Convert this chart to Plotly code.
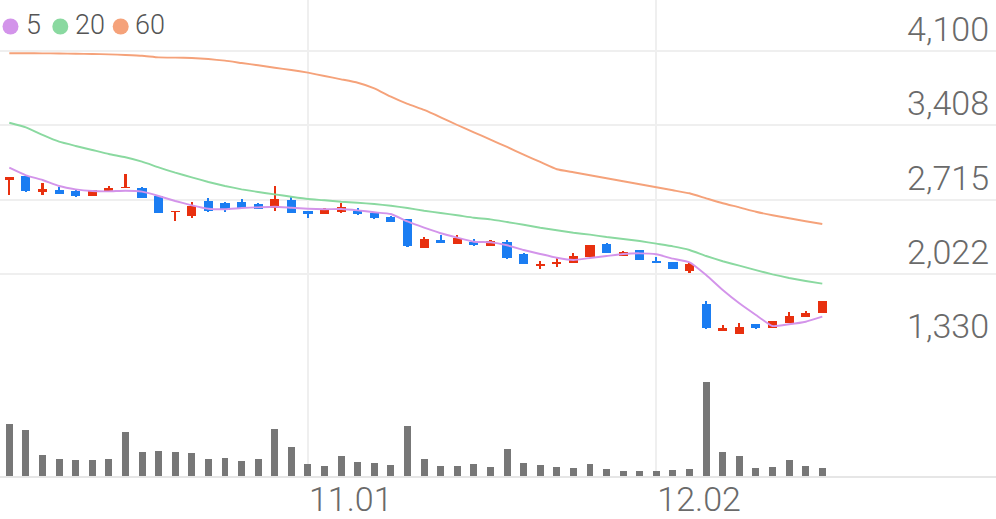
import plotly.graph_objects as go

# ---- data ----
opens = [2897, 2934, 2785, 2804, 2791, 2750, 2794, 2819, 2825, 2750,
         2598, 2561, 2704, 2680, 2689, 2673, 2638, 2710, 2610, 2582,
         2596, 2610, 2592, 2549, 2530, 2260, 2337, 2300, 2319, 2284,
         2316, 2204, 2095, 2111, 2120, 2176, 2297, 2191, 2241, 2141,
         2129, 2051, 1740, 1488, 1463, 1554, 1517, 1563, 1616, 1659]
closes = [2925, 2794, 2810, 2766, 2750, 2806, 2819, 2834, 2732, 2592,
          2610, 2654, 2610, 2617, 2638, 2624, 2722, 2592, 2582, 2617,
          2648, 2580, 2542, 2505, 2281, 2344, 2306, 2359, 2291, 2325,
          2172, 2113, 2116, 2135, 2191, 2288, 2216, 2222, 2151, 2123,
          2067, 2111, 1519, 1519, 1529, 1519, 1579, 1631, 1654, 1765]
highs = [2925, 2946, 2866, 2829, 2810, 2806, 2838, 2950, 2832, 2750,
         2610, 2694, 2726, 2694, 2717, 2682, 2841, 2735, 2610, 2633,
         2685, 2638, 2592, 2564, 2530, 2365, 2381, 2381, 2349, 2334,
         2334, 2219, 2144, 2172, 2219, 2288, 2309, 2237, 2241, 2181,
         2129, 2129, 1765, 1547, 1566, 1554, 1579, 1663, 1675, 1765]
lows = [2757, 2785, 2757, 2766, 2738, 2750, 2782, 2819, 2732, 2592,
        2514, 2545, 2598, 2598, 2638, 2624, 2608, 2592, 2542, 2582,
        2586, 2568, 2530, 2505, 2269, 2260, 2306, 2297, 2281, 2284,
        2163, 2113, 2064, 2088, 2120, 2176, 2216, 2188, 2151, 2123,
        2067, 2032, 1510, 1488, 1463, 1504, 1517, 1563, 1616, 1654]
ma5 = [3012, 2941, 2897, 2841, 2810, 2794, 2791, 2797, 2788, 2748,
       2701, 2661, 2629, 2624, 2636, 2642, 2648, 2638, 2629, 2624,
       2626, 2614, 2596, 2580, 2510, 2452, 2400, 2359, 2321, 2316,
       2288, 2244, 2207, 2172, 2151, 2169, 2188, 2207, 2213, 2204,
       2163, 2129, 2011, 1871, 1747, 1638, 1535, 1551, 1575, 1622]
ma20 = [3431, 3388, 3317, 3254, 3214, 3177, 3139, 3109, 3068, 3015,
        2965, 2922, 2878, 2841, 2810, 2785, 2763, 2741, 2720, 2708,
        2694, 2685, 2673, 2657, 2636, 2610, 2589, 2568, 2545, 2530,
        2505, 2480, 2452, 2428, 2405, 2387, 2365, 2347, 2328, 2303,
        2278, 2244, 2188, 2139, 2098, 2057, 2017, 1983, 1955, 1930]
ma60 = [4079, 4079, 4078, 4077, 4075, 4072, 4069, 4063, 4056, 4041,
        4038, 4035, 4025, 4010, 3988, 3967, 3944, 3923, 3898, 3867,
        3836, 3804, 3752, 3674, 3606, 3550, 3482, 3410, 3342, 3273,
        3205, 3133, 3065, 2997, 2969, 2941, 2913, 2885, 2857, 2829,
        2801, 2773, 2726, 2680, 2642, 2601, 2568, 2540, 2512, 2486]
volumes = [520, 463, 213, 170, 157, 160, 167, 440, 243, 250,
           237, 233, 173, 177, 150, 167, 470, 287, 123, 103,
           200, 140, 127, 113, 497, 173, 100, 100, 120, 93,
           267, 127, 113, 87, 83, 123, 70, 47, 50, 47,
           60, 70, 943, 243, 200, 83, 90, 160, 100, 77]
price_ticks = [1330, 2022, 2715, 3408, 4100]
date_tick_index = [18, 39]
date_tick_labels = ["11.01", "12.02"]
ma_names = ["5", "20", "60"]

# ---- styles ----
RED = "#e8300f"
BLUE = "#1b7df2"
MA_COLORS = ["#d394ea", "#8ad9a0", "#f5a27a"]
GRID = "#efefef"
FONT = "Roboto"

x = list(range(len(opens)))
up = [i for i in x if closes[i] >= opens[i]]
dn = [i for i in x if closes[i] < opens[i]]

fig = go.Figure()

# volume
fig.add_trace(go.Bar(x=x, y=volumes, width=0.42, marker=dict(color="#777777", line_width=0),
                     xaxis="x", yaxis="y2", hoverinfo="skip"))

# wicks
for idx, col in ((up, RED), (dn, BLUE)):
    fig.add_trace(go.Bar(x=idx, base=[lows[i] for i in idx],
                         y=[highs[i] - lows[i] for i in idx], width=0.13,
                         marker=dict(color=col, line_width=0), xaxis="x", yaxis="y",
                         hoverinfo="skip"))
# bodies
fig.add_trace(go.Bar(x=up, base=[opens[i] for i in up],
                     y=[closes[i] - opens[i] for i in up], width=0.55,
                     marker=dict(color=RED, line_width=0), xaxis="x", yaxis="y", hoverinfo="skip"))
fig.add_trace(go.Bar(x=dn, base=[closes[i] for i in dn],
                     y=[opens[i] - closes[i] for i in dn], width=0.55,
                     marker=dict(color=BLUE, line_width=0), xaxis="x", yaxis="y", hoverinfo="skip"))

# moving averages
for vals, col in ((ma60, MA_COLORS[2]), (ma20, MA_COLORS[1]), (ma5, MA_COLORS[0])):
    fig.add_trace(go.Scatter(x=x, y=vals, mode="lines",
                             line=dict(color=col, width=1.9, shape="spline", smoothing=0.4),
                             xaxis="x", yaxis="y", hoverinfo="skip"))

W, H = 996, 519
BOTTOM = 43
plot_h = H - BOTTOM
split = (476 - 348) / plot_h

fig.update_layout(
    width=W, height=H,
    margin=dict(l=0, r=0, t=0, b=BOTTOM, pad=0, autoexpand=False),
    paper_bgcolor="white", plot_bgcolor="white",
    showlegend=False, barmode="overlay", bargap=0, hovermode=False,
    font=dict(family=FONT, color="#666666"),
    xaxis=dict(range=[-0.56, 59.47], anchor="y2", tickmode="array",
               tickvals=date_tick_index, ticktext=date_tick_labels,
               showgrid=True, gridcolor=GRID, gridwidth=2, automargin=False,
               ticks="", ticklen=0, ticklabelposition="outside right", ticklabelstandoff=-8,
               tickfont=dict(family=FONT, size=34, color="#6a6a6a", weight=300),
               showline=True, linecolor="#e6e6e6", linewidth=2, zeroline=False),
    yaxis=dict(domain=[split, 1], range=[1330, 4575.8], anchor="x", side="right",
               tickmode="array", tickvals=price_ticks, automargin=False,
               ticktext=[f"{v:,}" for v in price_ticks],
               ticklabelposition="inside top", ticklabelstandoff=4, ticklabelshift=2, ticklen=0,
               showgrid=True, gridcolor=GRID, gridwidth=2,
               tickfont=dict(family=FONT, size=34, color="#6a6a6a", weight=300),
               zeroline=False, ticks=""),
    yaxis2=dict(domain=[0, split], range=[0, 1280], anchor="x", showgrid=False,
                automargin=False, showticklabels=False, zeroline=False, ticks=""),
)

# legend (circles + labels) at top-left
legend_cx = [10.5, 60.3, 120.7]
legend_tx = [26.7, 76, 135.7]
cy = 26.5
r = 8
for name, col, cx, tx in zip(ma_names, MA_COLORS, legend_cx, legend_tx):
    fig.add_shape(type="circle", xref="paper", yref="paper",
                  x0=(cx - r) / W, x1=(cx + r) / W,
                  y0=(plot_h - cy - r) / plot_h, y1=(plot_h - cy + r) / plot_h,
                  fillcolor=col, line_width=0)
    fig.add_annotation(xref="paper", yref="paper", x=(tx - 3) / W, y=(plot_h - 25) / plot_h,
                       xanchor="left", yanchor="middle", showarrow=False, text=name,
                       font=dict(family=FONT, size=27, color="#555555", weight=300))

fig.write_html("out.html", config={"displayModeBar": False, "staticPlot": True},
               post_script="document.body.style.margin='0';")
